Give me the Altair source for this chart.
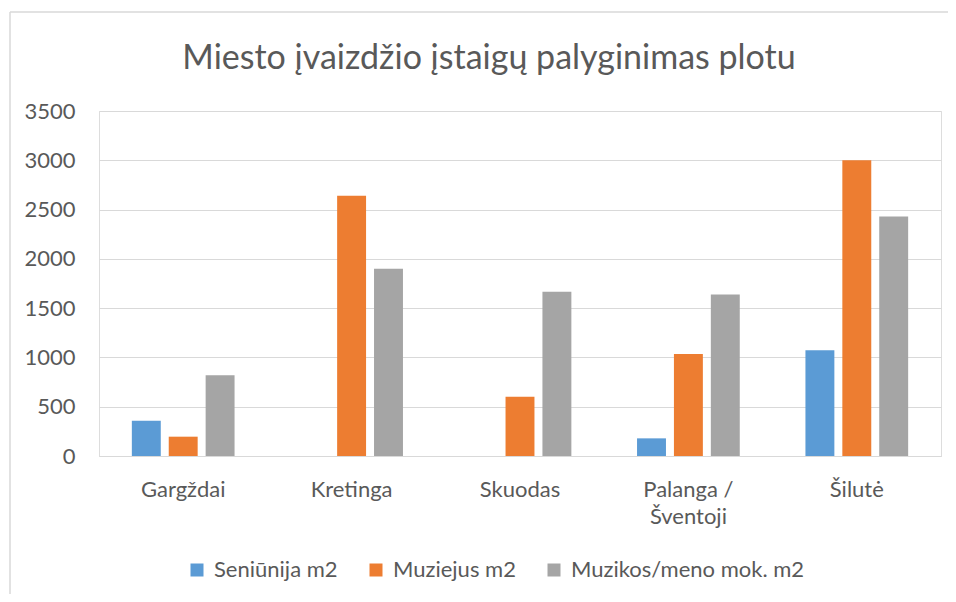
import altair as alt
import pandas as pd

categories = ["Gargždai", "Kretinga", "Skuodas", "Palanga / Šventoji", "Šilutė"]
series = ["Seniūnija m2", "Muziejus m2", "Muzikos/meno mok. m2"]
seniunija = [358, 0, 0, 179, 1074]
muziejus = [196, 2639, 601, 1034, 3000]
muzikos = [818, 1899, 1666, 1639, 2429]
colors = ["#5B9BD5", "#ED7D31", "#A5A5A5"]
y_ticks = [0, 500, 1000, 1500, 2000, 2500, 3000, 3500]
title_text = "Miesto įvaizdžio įstaigų palyginimas plotu"

rows = []
for s, vals in zip(series, [seniunija, muziejus, muzikos]):
    for c, v in zip(categories, vals):
        rows.append({"Miestas": c, "Serija": s, "Plotas": v})
df = pd.DataFrame(rows)

W, H = 842, 345
PL, PT, PR, PB = 91, 103, 7, 138
TXT = "#595959"
GRID = "#D9D9D9"
FONT = "Lato"

bars = alt.Chart(df).mark_bar().encode(
    x=alt.X(
        "Miestas:N",
        sort=categories,
        scale=alt.Scale(paddingInner=0.39, paddingOuter=0.195),
        axis=alt.Axis(
            title=None, labelAngle=0, labelFontSize=22, labelFont=FONT, labelColor=TXT,
            labelBaseline="alphabetic", labelPadding=40, labelLineHeight=27,
            ticks=False, domain=True, domainColor=GRID, domainWidth=1,
            labelExpr="datum.label == 'Palanga / Šventoji' ? ['Palanga /', 'Šventoji'] : datum.label",
        ),
    ),
    xOffset=alt.XOffset("Serija:N", sort=series,
                        scale=alt.Scale(paddingInner=0.216, paddingOuter=0)),
    y=alt.Y(
        "Plotas:Q",
        scale=alt.Scale(domain=[0, 3500], nice=False),
        axis=alt.Axis(
            title=None, values=y_ticks, format="d", labelFontSize=22, labelFont=FONT, labelColor=TXT,
            labelPadding=24, ticks=False, domain=False, grid=True, gridColor=GRID, gridWidth=1,
        ),
    ),
    color=alt.Color(
        "Serija:N",
        sort=series,
        scale=alt.Scale(domain=series, range=colors),
        legend=alt.Legend(
            title=None, orient="none", direction="horizontal", legendX=87, legendY=448,
            symbolType="square", symbolSize=169, symbolStrokeWidth=0,
            labelFontSize=22, labelFont=FONT, labelColor=TXT, labelOffset=6, labelLimit=0,
            columnPadding=27, padding=0,
        ),
    ),
)

frame = pd.DataFrame({"k": [0]})
top_border = alt.Chart(frame).mark_rule(color=GRID, strokeWidth=1.5).encode(
    x=alt.value(-89), x2=alt.value(W + 30), y=alt.value(-99)
)
left_border = alt.Chart(frame).mark_rule(color=GRID, strokeWidth=1.5).encode(
    x=alt.value(-89), y=alt.value(-99), y2=alt.value(H + 200)
)
title_mark = alt.Chart(pd.DataFrame({"t": [title_text]})).mark_text(
    font=FONT, fontSize=34, color=TXT, align="center", baseline="alphabetic"
).encode(text="t:N", x=alt.value(W / 2 - 31), y=alt.value(-42))

chart = alt.layer(top_border, left_border, title_mark, bars).properties(
    width=W,
    height=H,
    padding={"left": PL, "top": PT, "right": PR, "bottom": PB},
    autosize=alt.AutoSizeParams(type="none"),
).configure_view(stroke="transparent", strokeWidth=0).configure(background="white")

chart.save("out.html", embed_options={"renderer": "svg", "actions": False})
